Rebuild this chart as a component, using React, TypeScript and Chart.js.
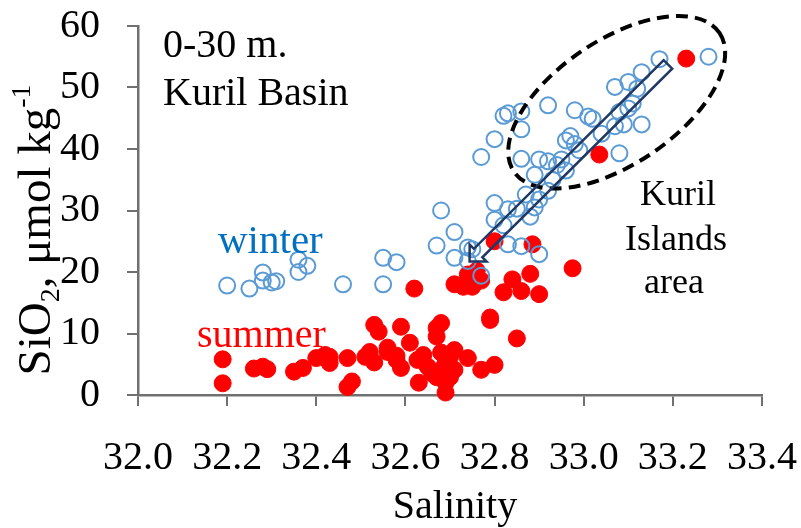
import React, { useEffect, useRef } from "react";
import { Chart, registerables } from "chart.js";
Chart.register(...registerables);

const xTicks = [32.0, 32.2, 32.4, 32.6, 32.8, 33.0, 33.2, 33.4];
const yTicks = [0, 10, 20, 30, 40, 50, 60];

const winterSalinity = [
  32.20, 32.25, 32.28, 32.28, 32.30, 32.31, 32.36, 32.36, 32.38, 32.46,
  32.55, 32.55, 32.58, 32.67, 32.68, 32.71, 32.71, 32.74, 32.74, 32.75,
  32.77, 32.80, 32.80, 32.83, 32.83, 32.86, 32.85, 32.88, 32.87, 32.90,
  32.90, 32.82, 32.89, 32.92, 32.77, 32.80, 32.82, 32.83, 32.86, 32.86,
  32.92, 32.86, 32.90, 32.92, 32.94, 32.95, 32.89, 32.93, 32.96, 32.97,
  32.98, 32.98, 33.01, 33.02, 33.07, 33.09, 33.13, 33.08, 33.10, 33.11,
  33.07, 33.10, 33.12, 33.13, 33.17, 33.28, 33.08, 32.99, 32.96, 33.04,
];
const winterSiO2 = [
  17.8, 17.3, 19.9, 18.6, 18.3, 18.5, 22.0, 20.0, 21.0, 18.0,
  22.3, 18.0, 21.6, 24.3, 30.0, 26.5, 22.3, 24.0, 21.8, 23.7,
  19.4, 31.2, 28.5, 30.2, 24.5, 24.2, 30.3, 29.0, 32.6, 31.8,
  22.9, 27.6, 30.5, 33.2, 38.7, 41.6, 45.4, 45.8, 46.1, 43.2,
  47.1, 38.4, 38.3, 38.0, 37.4, 38.3, 35.8, 35.0, 41.4, 42.1,
  40.8, 46.3, 45.3, 44.9, 43.7, 44.0, 44.0, 46.0, 46.6, 47.4,
  50.1, 50.9, 49.8, 52.5, 54.6, 55.0, 39.3, 39.8, 36.5, 42.5,
];

const summerSalinity = [
  32.19, 32.19, 32.26, 32.28, 32.29, 32.35, 32.37, 32.40, 32.42, 32.43,
  32.43, 32.47, 32.47, 32.48, 32.51, 32.52, 32.53, 32.53, 32.54, 32.56,
  32.58, 32.59, 32.59, 32.58, 32.61, 32.56, 32.62, 32.63, 32.64, 32.65,
  32.67, 32.68, 32.67, 32.67, 32.68, 32.68, 32.69, 32.69, 32.70, 32.71,
  32.71, 32.70, 32.74, 32.77, 32.80, 32.79, 32.79, 32.85, 32.71, 32.73,
  32.75, 32.74, 32.76, 32.77, 32.80, 32.82, 32.84, 32.86, 32.88, 32.90,
  32.885, 32.975, 33.035, 33.23, 32.66, 32.69, 32.627,
];
const summerSiO2 = [
  5.8, 1.9, 4.3, 4.6, 4.2, 3.8, 4.4, 6.0, 6.5, 5.2,
  6.2, 6.0, 1.3, 2.2, 6.2, 7.0, 5.3, 11.4, 10.3, 7.0,
  5.7, 11.1, 4.4, 6.4, 8.5, 7.7, 17.3, 2.0, 6.5, 4.6,
  10.9, 11.7, 9.5, 2.9, 4.1, 6.9, 2.0, 0.4, 6.2, 7.3,
  4.1, 2.9, 6.0, 4.1, 4.9, 12.2, 12.6, 9.2, 18.0, 17.6,
  17.6, 19.6, 20.2, 18.6, 25.0, 16.7, 18.8, 16.9, 19.7, 16.4,
  24.5, 20.6, 39.1, 54.7, 3.5, 5.2, 5.7,
];

// annotation anchors (data units)
const ellipseCenter = [33.074, 47.6];
const arrowTail = [33.189, 53.75];
const arrowTip = [32.744, 21.7];

const FONT = '"Liberation Serif", "Times New Roman", serif';

export default function App() {
  const ref = useRef<HTMLCanvasElement>(null);
  useEffect(() => {
    const annot = {
      id: "annot",
      afterDatasetsDraw(chart: any) {
        const { ctx, scales } = chart;
        const xs = scales.x, ys = scales.y;
        ctx.save();
        // dashed ellipse
        const ex = xs.getPixelForValue(ellipseCenter[0]);
        const ey = ys.getPixelForValue(ellipseCenter[1]);
        ctx.beginPath();
        ctx.ellipse(ex, ey, 124, 62, (-34 * Math.PI) / 180, 0, Math.PI * 2);
        ctx.setLineDash([12, 7]);
        ctx.lineWidth = 4;
        ctx.strokeStyle = "#000";
        ctx.stroke();
        ctx.setLineDash([]);
        // hollow block arrow
        const tx = xs.getPixelForValue(arrowTail[0]);
        const ty = ys.getPixelForValue(arrowTail[1]);
        const px = xs.getPixelForValue(arrowTip[0]);
        const py = ys.getPixelForValue(arrowTip[1]);
        const dx = px - tx, dy = py - ty;
        const L = Math.hypot(dx, dy);
        const ux = dx / L, uy = dy / L;
        const nx = -uy, ny = ux;
        const sh = 6, hh = 12, hl = 12;
        const bx = px - ux * hl, by = py - uy * hl;
        ctx.beginPath();
        ctx.moveTo(tx + nx * sh, ty + ny * sh);
        ctx.lineTo(bx + nx * sh, by + ny * sh);
        ctx.lineTo(bx + nx * hh, by + ny * hh);
        ctx.lineTo(px, py);
        ctx.lineTo(bx - nx * hh, by - ny * hh);
        ctx.lineTo(bx - nx * sh, by - ny * sh);
        ctx.lineTo(tx - nx * sh, ty - ny * sh);
        ctx.closePath();
        ctx.lineWidth = 2.5;
        ctx.lineJoin = "miter";
        ctx.strokeStyle = "#1F3864";
        ctx.stroke();

        // texts
        ctx.textBaseline = "alphabetic";
        ctx.textAlign = "left";
        ctx.fillStyle = "#000";
        ctx.font = `40px ${FONT}`;
        ctx.fillText("0-30 m.", 163, 57);
        ctx.fillText("Kuril Basin", 163, 105);
        ctx.fillStyle = "#0070C0";
        ctx.font = `41px ${FONT}`;
        ctx.fillText("winter", 218, 253);
        ctx.fillStyle = "#FF0000";
        ctx.font = `40px ${FONT}`;
        ctx.fillText("summer", 197, 347);
        ctx.fillStyle = "#000";
        ctx.font = `36px ${FONT}`;
        ctx.textAlign = "center";
        ctx.fillText("Kuril", 678, 205);
        ctx.fillText("Islands", 676, 250);
        ctx.fillText("area", 674, 293);

        // x title
        ctx.font = `40px ${FONT}`;
        ctx.fillText("Salinity", (xs.left + xs.right) / 2 + 5, 518);

        // y title with sub/superscript
        ctx.translate(50, 230);
        ctx.rotate(-Math.PI / 2);
        const big = `47px ${FONT}`;
        const small = `28px ${FONT}`;
        const parts = [
          { t: "SiO", f: big, dy: 0 },
          { t: "2", f: small, dy: 9 },
          { t: ", \u03bcmol kg", f: big, dy: 0 },
          { t: "-1", f: small, dy: -20 },
        ];
        let total = 0;
        for (const p of parts) {
          ctx.font = p.f;
          total += ctx.measureText(p.t).width;
        }
        let cx = -total / 2;
        ctx.textAlign = "left";
        for (const p of parts) {
          ctx.font = p.f;
          ctx.fillText(p.t, cx, p.dy);
          cx += ctx.measureText(p.t).width;
        }
        ctx.restore();
      },
    };

    const axisColor = "#707070";
    const chart = new Chart(ref.current as HTMLCanvasElement, {
      type: "scatter",
      data: {
        datasets: [
          {
            label: "winter",
            data: winterSalinity.map((x, i) => ({ x, y: winterSiO2[i] })),
            backgroundColor: "rgba(0,0,0,0)",
            borderColor: "#5B9BD5",
            borderWidth: 2,
            pointRadius: 8,
            clip: false as any,
            order: 0,
          },
          {
            label: "summer",
            data: summerSalinity.map((x, i) => ({ x, y: summerSiO2[i] })),
            backgroundColor: "#FF0000",
            borderColor: "#FF0000",
            borderWidth: 1,
            pointRadius: 8.5,
            clip: false as any,
            order: 1,
          },
        ],
      },
      options: {
        responsive: false,
        animation: false,
        devicePixelRatio: 1,
        events: [],
        layout: { padding: { top: 26, right: 39, left: 0, bottom: 0 } },
        plugins: { legend: { display: false }, tooltip: { enabled: false } },
        scales: {
          x: {
            type: "linear",
            min: 32,
            max: 33.4,
            afterBuildTicks: (s: any) => {
              s.ticks = xTicks.map((v) => ({ value: v }));
            },
            afterFit: (s: any) => {
              s.height = 133;
              s.paddingLeft = 0;
              s.paddingRight = 0;
            },
            ticks: {
              callback: (v: any) => Number(v).toFixed(1),
              font: { family: FONT, size: 40 },
              color: "#000",
              padding: 28,
              maxRotation: 0,
              autoSkip: false,
            },
            grid: { drawOnChartArea: false, drawTicks: true, tickLength: 11, color: axisColor, lineWidth: 2 },
            border: { color: axisColor, width: 2.5 },
          },
          y: {
            type: "linear",
            min: 0,
            max: 60,
            afterBuildTicks: (s: any) => {
              s.ticks = yTicks.map((v) => ({ value: v }));
            },
            afterFit: (s: any) => {
              s.width = 138;
              s.paddingTop = 0;
              s.paddingBottom = 0;
            },
            ticks: {
              font: { family: FONT, size: 40 },
              color: "#000",
              padding: 27,
              autoSkip: false,
            },
            grid: { drawOnChartArea: false, drawTicks: true, tickLength: 11, color: axisColor, lineWidth: 2 },
            border: { color: axisColor, width: 2.5 },
          },
        },
      },
      plugins: [annot],
    });
    return () => chart.destroy();
  }, []);
  return (
    <div style={{ position: "fixed", left: 0, top: 0, width: 801, height: 528, background: "#fff" }}>
      <canvas ref={ref} width={801} height={528} style={{ display: "block", width: 801, height: 528 }} />
    </div>
  );
}
